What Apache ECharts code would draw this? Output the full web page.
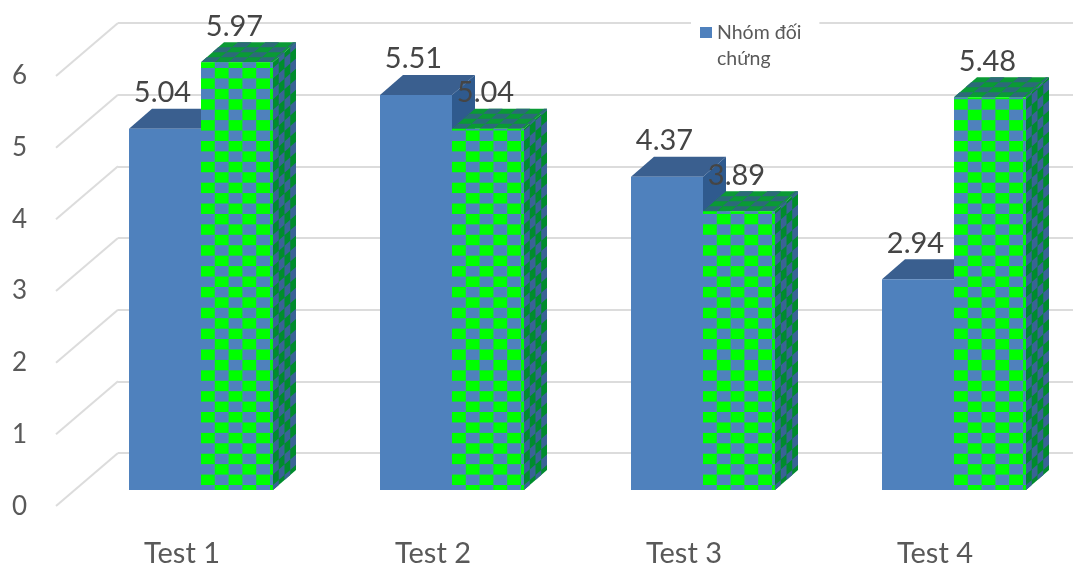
<!DOCTYPE html>
<html>
<head>
<meta charset="utf-8">
<script src="https://cdn.jsdelivr.net/npm/echarts@6/dist/echarts.min.js"></script>
<style>html,body{margin:0;padding:0;background:#fff}#c{width:1073px;height:563px;filter:blur(0.5px)}</style>
</head>
<body>
<div id="c"></div>
<script>
const categories = ['Test 1', 'Test 2', 'Test 3', 'Test 4'];
const controlValues = [5.04, 5.51, 4.37, 2.94];
const testValues = [5.97, 5.04, 3.89, 5.48];
const axisTicks = [0, 1, 2, 3, 4, 5, 6];
const legendName = 'Nhóm đối\nchứng';
const testName = 'Nhóm thử nghiệm';

const FONT = 'Lato, "Open Sans", sans-serif';
const TEXT = '#595959';
const DX = 23, DY = 20, BAR = 72 / 251;

function poly(points, fill) {
  return { type: 'polygon', silent: true, shape: { points }, style: { fill, stroke: null } };
}
function quad(o, u, v, a0, a1, b0, b1, fill) {
  const p = (a, b) => [o[0] + u[0] * a + v[0] * b, o[1] + u[1] * a + v[1] * b];
  return poly([p(a0, b0), p(a1, b0), p(a1, b1), p(a0, b1)], fill);
}
// checkered parallelogram: base colour plus cells, cut at the face edges
function checker(o, u, v, uLen, vLen, cu, cv, vOff, base, cell) {
  const out = [quad(o, u, v, 0, uLen, 0, vLen, base)];
  for (let i = 0; i * cu < uLen; i++) {
    for (let j = 0; j * cv - vOff < vLen; j++) {
      if ((i + j) % 2) continue;
      const b0 = Math.max(0, j * cv - vOff), b1 = Math.min(vLen, (j + 1) * cv - vOff);
      if (b1 <= b0) continue;
      out.push(quad(o, u, v, i * cu, Math.min(uLen, (i + 1) * cu), b0, b1, cell));
    }
  }
  return out;
}
function valueLabel(val, cx, top) {
  return {
    type: 'text', silent: true, z2: 100,
    style: { text: val.toFixed(2), x: cx - 2.5, y: top - 36, align: 'center', verticalAlign: 'middle',
      fontFamily: FONT, fontSize: 29, fill: '#454545' }
  };
}
function renderControl(params, api) {
  const cat = api.value(0), val = api.value(1);
  const bw = api.size([1, 0])[0] * BAR;
  const base = api.coord([cat, 0]), tip = api.coord([cat, val]);
  const l = base[0] - bw, r = base[0], b = base[1], t = tip[1];
  return { type: 'group', children: [
    poly([[l, t], [l + DX, t - DY], [r + DX, t - DY], [r, t]], '#3A5F8F'),
    poly([[r, t], [r + DX, t - DY], [r + DX, b - DY], [r, b]], '#2F5A8E'),
    poly([[l, t], [r, t], [r, b], [l, b]], '#4F81BD'),
    valueLabel(val, (l + r) / 2, t)
  ] };
}
function renderTest(params, api) {
  const cat = api.value(0), val = api.value(1);
  const bw = api.size([1, 0])[0] * BAR;
  const base = api.coord([cat, 0]), tip = api.coord([cat, val]);
  const l = base[0], r = base[0] + bw, b = base[1], t = tip[1], h = b - t;
  const rowH = 10.425, colW = 13.8;
  const top = checker([l, t], [1, 0], [DX / 4, -DY / 4], bw, 4, colW, 1, 0, '#0A9A35', '#2C6A78');
  const side = checker([r, b], [DX / 4, -DY / 4], [0, -1], 4, h, 1, rowH, rowH - 5, '#008C2C', '#3A6296');
  const front = checker([l, b], [1, 0], [0, -1], bw, h, colW, rowH, rowH - 5, '#00FF00', '#4F81BD');
  return { type: 'group', children: top.concat(side, front, [valueLabel(val, (l + r) / 2, t)]) };
}
function renderDiagonal(params, api) {
  const p = api.coord([0, api.value(1)]);
  return { type: 'line', silent: true,
    shape: { x1: p[0], y1: p[1], x2: p[0] - 62, y2: p[1] + 53 },
    style: { stroke: '#DCDCDC', lineWidth: 2 } };
}

const chart = echarts.init(document.getElementById('c'), null, { renderer: 'canvas' });
chart.setOption({
  animation: false,
  backgroundColor: '#fff',
  grid: [
    { left: 118, width: 955, top: 23, height: 430, outerBoundsMode: 'none' },   // back wall
    { left: 75.5, width: 1004, top: 60, height: 430, outerBoundsMode: 'none' }, // bars
    { left: 35, width: 1, top: 75.5, height: 431, outerBoundsMode: 'none' }     // value labels
  ],
  xAxis: [
    { gridIndex: 0, type: 'value', min: 0, max: 1, show: false },
    { gridIndex: 1, type: 'category', data: categories,
      axisLine: { show: false }, axisTick: { show: false },
      axisLabel: { margin: 49, padding: [0, 38, 0, 0], fontFamily: FONT, fontSize: 29, color: TEXT } },
    { gridIndex: 2, type: 'value', min: 0, max: 1, show: false }
  ],
  yAxis: [
    { gridIndex: 0, type: 'value', min: 0, max: 6, interval: 1,
      axisLine: { show: false }, axisTick: { show: false }, axisLabel: { show: false },
      splitLine: { show: true, lineStyle: { color: '#DCDCDC', width: 2 } } },
    { gridIndex: 1, type: 'value', min: 0, max: 6, show: false, splitLine: { show: false } },
    { gridIndex: 2, type: 'value', min: 0, max: 6, interval: 1,
      axisLine: { show: false }, axisTick: { show: false }, splitLine: { show: false },
      axisLabel: { margin: 8, fontFamily: FONT, fontSize: 26, color: TEXT } }
  ],
  legend: {
    data: [legendName],
    left: 691, top: 15, orient: 'vertical',
    padding: [5, 18, 5, 9],
    backgroundColor: '#fff',
    itemWidth: 12, itemHeight: 38,
    icon: 'path://M0 0h12v11h-12z M0 38h0.01',
    selectedMode: false,
    z: 20,
    textStyle: { fontFamily: FONT, fontSize: 19.5, lineHeight: 26, color: TEXT }
  },
  series: [
    { type: 'custom', name: 'wall', xAxisIndex: 0, yAxisIndex: 0, clip: false, silent: true,
      data: axisTicks.map(v => [0, v]), renderItem: renderDiagonal, z: 1 },
    { type: 'custom', name: legendName, xAxisIndex: 1, yAxisIndex: 1, clip: false, silent: true,
      itemStyle: { color: '#4F81BD' },
      data: controlValues.map((v, i) => [i, v]), renderItem: renderControl, z: 3 },
    { type: 'custom', name: testName, xAxisIndex: 1, yAxisIndex: 1, clip: false, silent: true,
      itemStyle: { color: '#00FF00' },
      data: testValues.map((v, i) => [i, v]), renderItem: renderTest, z: 4 }
  ]
});
</script>
</body>
</html>
